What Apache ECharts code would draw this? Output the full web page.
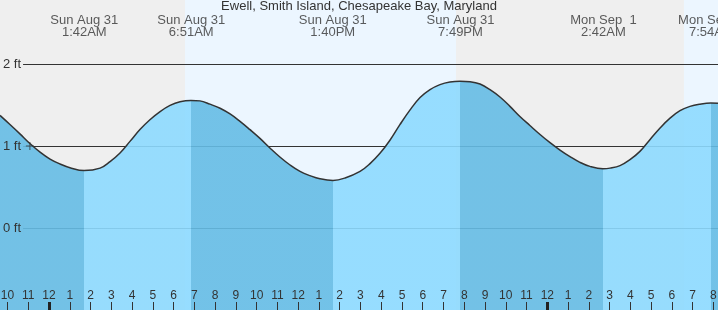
<!DOCTYPE html>
<html>
<head>
<meta charset="utf-8">
<script src="https://cdn.jsdelivr.net/npm/echarts@6/dist/echarts.min.js"></script>
<style>
  html, body { margin: 0; padding: 0; background: #fff; }
  #chart { width: 718px; height: 310px; }
</style>
</head>
<body>
<div id="chart"></div>
<script>
  // hours are counted from midnight at the start of Sun Aug 31
  const curveHours = [-2.36, -1.88, -1.40, -0.92, -0.43, 0.05, 0.53, 1.01, 1.69, 2.46, 2.94, 3.42, 3.90, 4.38, 4.86, 5.35, 5.83, 6.31, 6.84, 7.27, 7.75, 8.24, 8.72, 9.20, 9.68, 10.16, 10.64, 11.12, 11.61, 12.09, 12.57, 13.05, 13.68, 14.26, 14.98, 15.46, 15.94, 16.42, 16.90, 17.39, 17.87, 18.35, 18.83, 19.31, 19.80, 20.28, 20.76, 21.24, 21.72, 22.20, 22.68, 23.16, 23.65, 24.13, 24.61, 25.09, 25.57, 26.05, 26.68, 27.02, 27.50, 27.98, 28.46, 28.94, 29.43, 29.91, 30.39, 30.87, 31.35, 31.88, 32.22]
  const curveFeet = [1.373, 1.262, 1.148, 1.03, 0.925, 0.84, 0.78, 0.735, 0.70, 0.73, 0.81, 0.915, 1.056, 1.20, 1.32, 1.42, 1.495, 1.54, 1.556, 1.55, 1.51, 1.46, 1.39, 1.30, 1.199, 1.093, 0.976, 0.866, 0.768, 0.69, 0.638, 0.60, 0.58, 0.61, 0.69, 0.785, 0.91, 1.07, 1.26, 1.44, 1.59, 1.687, 1.748, 1.78, 1.79, 1.784, 1.755, 1.687, 1.597, 1.483, 1.36, 1.25, 1.14, 1.04, 0.95, 0.87, 0.80, 0.751, 0.723, 0.73, 0.76, 0.833, 0.934, 1.077, 1.22, 1.34, 1.43, 1.483, 1.51, 1.524, 1.52]

  const tideHours = [1 + 42 / 60, 6 + 51 / 60, 13 + 40 / 60, 19 + 49 / 60, 24 + 2 + 42 / 60, 24 + 7 + 54 / 60]
  const tideDays = ['Sun Aug 31', 'Sun Aug 31', 'Sun Aug 31', 'Sun Aug 31', 'Mon Sep  1', 'Mon Sep  1']
  const tideClocks = ['1:42AM', '6:51AM', '1:40PM', '7:49PM', '2:42AM', '7:54AM']

  const nightBands = [[-2.36, 6.55], [19.6, 30.58]]
  const dayBands = [[6.55, 19.6], [30.58, 32.22]]

  const hourTicks = []
  for (let h = -2; h <= 32; h++) hourTicks.push(h)
  const midnightTicks = [0, 24]
  const nowMarker = [[-0.92, 1.0]]

  const xMin = -2.36, xMax = 32.22
  const yMin = -1, yMax = 2.78

  const darkFill = 'rgb(101,188,229)'
  const lightFill = 'rgb(141,218,255)'
  const font = "'Liberation Sans', Arial, sans-serif"

  // falling tide = darker blue, rising tide = lighter blue
  const pieces = []
  let prev = -100
  tideHours.forEach((h, i) => {
    pieces.push({ gte: prev, lt: h, color: i % 2 === 0 ? darkFill : lightFill })
    prev = h
  })
  pieces.push({ gte: prev, lt: 100, color: darkFill })

  const bands = nightBands.map(b => [{ xAxis: b[0], itemStyle: { color: '#efefef' } }, { xAxis: b[1] }])
    .concat(dayBands.map(b => [{ xAxis: b[0], itemStyle: { color: '#ecf6ff' } }, { xAxis: b[1] }]))

  const curve = curveHours.map((h, i) => [h, curveFeet[i]])

  const chart = echarts.init(document.getElementById('chart'))
  chart.setOption({
    animation: false,
    title: {
      text: 'Ewell, Smith Island, Chesapeake Bay, Maryland',
      left: 'center',
      top: 0,
      padding: 0,
      textStyle: { fontSize: 13, fontWeight: 'normal', color: '#333', fontFamily: font }
    },
    grid: { left: 0, right: 0, top: 0, bottom: 0, outerBoundsMode: 'none', containLabel: false },
    xAxis: [
      {
        type: 'value',
        min: xMin,
        max: xMax,
        position: 'bottom',
        z: 5,
        splitLine: { show: false },
        axisLine: { show: false, onZero: false },
        axisTick: { show: true, inside: true, length: 8, customValues: hourTicks, lineStyle: { color: '#333' } },
        axisLabel: {
          inside: true,
          margin: 8,
          customValues: hourTicks,
          fontSize: 12,
          fontFamily: font,
          color: '#333',
          formatter: v => {
            const h = ((Math.round(v) % 12) + 12) % 12
            return String(h === 0 ? 12 : h)
          }
        }
      },
      {
        type: 'value',
        min: xMin,
        max: xMax,
        position: 'bottom',
        z: 5,
        splitLine: { show: false },
        axisLine: { show: false, onZero: false },
        axisLabel: { show: false },
        axisTick: { show: true, inside: true, length: 8, customValues: midnightTicks, lineStyle: { color: '#222', width: 3 } }
      }
    ],
    yAxis: [
      {
        type: 'value',
        min: yMin,
        max: yMax,
        interval: 1,
        position: 'left',
        z: 1,
        axisLine: { show: false, onZero: false },
        axisTick: { show: false },
        axisLabel: { show: false },
        splitLine: { show: true, showMinLine: false, showMaxLine: false, lineStyle: { color: '#333', width: 1 } }
      },
      {
        type: 'value',
        min: yMin,
        max: yMax,
        interval: 1,
        position: 'left',
        z: 5,
        axisLine: { show: false, onZero: false },
        axisTick: { show: false },
        splitLine: { show: false },
        axisLabel: {
          inside: true,
          margin: 0,
          showMinLabel: false,
          fontSize: 13,
          fontFamily: font,
          color: '#333',
          formatter: v => {
            if (v < 0 || v > 2) return ''
            return (v === 2 ? '{g|' : '{b|') + v + ' ft}'
          },
          rich: {
            g: { backgroundColor: '#efefef', padding: [1, 2, 1, 3], fontSize: 13, fontFamily: font, color: '#333' },
            b: { backgroundColor: '#73c1e6', padding: [1, 2, 1, 3], fontSize: 13, fontFamily: font, color: '#333' }
          }
        }
      }
    ],
    visualMap: {
      show: false,
      type: 'piecewise',
      dimension: 0,
      seriesIndex: 1,
      pieces: pieces
    },
    series: [
      {
        type: 'line',
        data: curve,
        z: 0,
        silent: true,
        showSymbol: false,
        lineStyle: { opacity: 0 },
        markArea: { silent: true, z: 0, data: bands }
      },
      {
        type: 'line',
        data: curve,
        z: 2,
        smooth: 0.4,
        showSymbol: false,
        silent: true,
        lineStyle: { color: '#333', width: 1.5 },
        areaStyle: { origin: 'start', opacity: 0.9 }
      },
      {
        type: 'scatter',
        data: nowMarker,
        z: 6,
        silent: true,
        symbol: 'path://M0,3.5h8v1h-8zM3.5,0h1v8h-1z',
        symbolSize: [8, 8],
        itemStyle: { color: '#333' }
      },
      {
        type: 'scatter',
        z: 6,
        silent: true,
        clip: false,
        symbolSize: 0,
        data: tideHours.map(h => [h, yMax]),
        label: {
          show: true,
          position: 'inside',
          offset: [0, 26],
          fontSize: 13,
          lineHeight: 12,
          fontFamily: font,
          color: '#333',
          formatter: p => tideDays[p.dataIndex] + '\n' + tideClocks[p.dataIndex]
        }
      }
    ]
  })
</script>
</body>
</html>
